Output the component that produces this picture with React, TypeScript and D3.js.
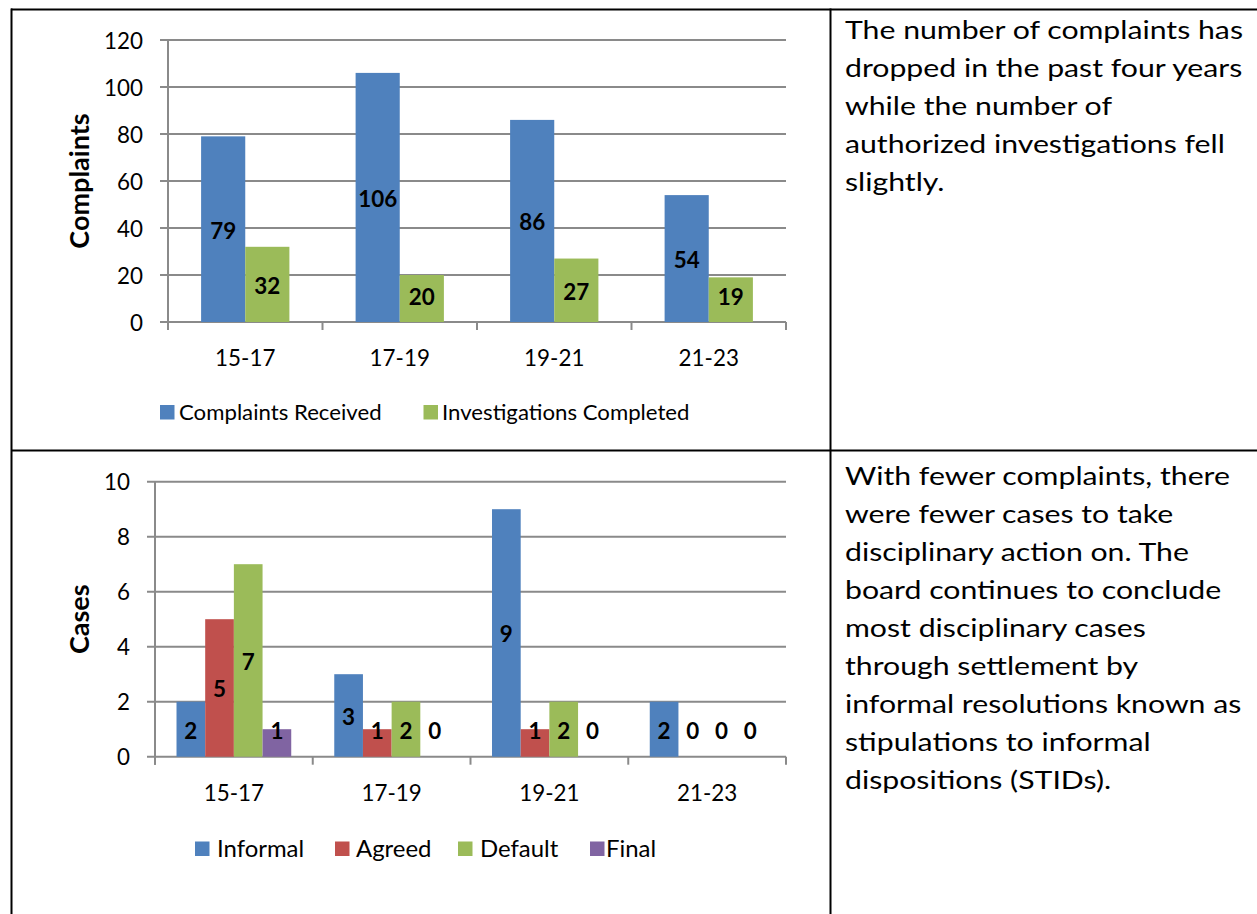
import React from 'react';
import * as d3 from 'd3';

// ---------- data ----------
const categories = ['15-17', '17-19', '19-21', '21-23'];

const complaintsReceived = [79, 106, 86, 54];
const investigationsCompleted = [32, 20, 27, 19];
const complaintTicks = [0, 20, 40, 60, 80, 100, 120];

const informalCases = [2, 3, 9, 2];
const agreedCases = [5, 1, 1, 0];
const defaultCases = [7, 2, 2, 0];
const finalCases = [1, 0, 0, 0];
const caseTicks = [0, 2, 4, 6, 8, 10];

const topSeriesNames = ['Complaints Received', 'Investigations Completed'];
const bottomSeriesNames = ['Informal', 'Agreed', 'Default', 'Final'];

const topText = [
  'The number of complaints has',
  'dropped in the past four years',
  'while the number of',
  'authorized investigations fell',
  'slightly.',
];
const bottomText = [
  'With fewer complaints, there',
  'were fewer cases to take',
  'disciplinary action on. The',
  'board continues to conclude',
  'most disciplinary cases',
  'through settlement by',
  'informal resolutions known as',
  'stipulations to informal',
  'dispositions (STIDs).',
];

// ---------- styles ----------
const FONT = "Lato, Carlito, Calibri, 'Open Sans', sans-serif";
const BLUE = '#4F81BD';
const RED = '#C0504D';
const GREEN = '#9BBB59';
const PURPLE = '#8064A2';
const GRID = '#8a8a8a';

type Series = { name: string; values: number[]; color: string };

type ChartProps = {
  series: Series[];
  ticks: number[];
  maxY: number;
  x0: number;
  x1: number;
  yTop: number;
  yBottom: number;
  tickLabelRight: number;
  title: string;
  titleX: number;
  xLabelY: number;
  legendY: number;
  legendSquareX: number[];
  legendTextX: number[];
  legendFont: number;
  legendStretch: number;
};

function BarChart(p: ChartProps) {
  const x = d3.scaleBand<string>().domain(categories).range([p.x0, p.x1]).paddingInner(0).paddingOuter(0);
  const inner = d3
    .scaleBand<string>()
    .domain(p.series.map((s) => s.name))
    .range([0, x.bandwidth()])
    .paddingInner(0)
    .paddingOuter(0.75);
  const y = d3.scaleLinear().domain([0, p.maxY]).range([p.yBottom, p.yTop]);
  const boundaries = categories.map((c) => x(c) as number).concat([p.x1]);
  const axisY = y(0);
  const labelFloor = axisY - 27;

  return (
    <g>
      {p.ticks.map((t) => (
        <line key={'g' + t} x1={p.x0 - 8} x2={p.x1} y1={y(t)} y2={y(t)} stroke={GRID} strokeWidth={2} />
      ))}
      <line x1={p.x0} x2={p.x0} y1={p.yTop} y2={axisY + 8} stroke={GRID} strokeWidth={2} />
      {boundaries.map((b, i) => (
        <line key={'c' + i} x1={b} x2={b} y1={axisY} y2={axisY + 8} stroke={GRID} strokeWidth={2} />
      ))}
      {p.ticks.map((t) => (
        <text
          key={'l' + t}
          x={p.tickLabelRight}
          y={y(t)}
          textAnchor="end"
          dominantBaseline="central"
          fontSize={22.4}
          fontFamily={FONT}
          fill="#000"
        >
          {t}
        </text>
      ))}
      <text
        transform={`translate(${p.titleX},${(p.yTop + p.yBottom) / 2}) rotate(-90)`}
        textAnchor="middle"
        dominantBaseline="central"
        fontSize={27}
        fontWeight="bold"
        fontFamily={FONT}
        fill="#000"
      >
        {p.title}
      </text>
      {p.series.map((s) => (
        <g key={s.name}>
          {s.values.map((v, i) => {
            const bx = (x(categories[i]) as number) + (inner(s.name) as number);
            return (
              <rect key={i} x={bx} y={y(v)} width={inner.bandwidth()} height={axisY - y(v)} fill={s.color} />
            );
          })}
        </g>
      ))}
      {p.series.map((s) => (
        <g key={'dl' + s.name}>
          {s.values.map((v, i) => {
            const cx = (x(categories[i]) as number) + (inner(s.name) as number) + inner.bandwidth() / 2;
            const mid = (y(v) + axisY) / 2;
            return (
              <text
                key={i}
                x={cx}
                y={Math.min(mid, labelFloor) + 1}
                textAnchor="middle"
                dominantBaseline="central"
                fontSize={22.4}
                fontWeight="bold"
                fontFamily={FONT}
                fill="#000"
              >
                {v}
              </text>
            );
          })}
        </g>
      ))}
      {categories.map((c) => (
        <text
          key={'x' + c}
          x={(x(c) as number) + x.bandwidth() / 2}
          y={p.xLabelY}
          textAnchor="middle"
          dominantBaseline="central"
          fontSize={22.4}
          fontFamily={FONT}
          fill="#000"
          style={{ fontVariantNumeric: 'tabular-nums', fontFeatureSettings: '"tnum"' }}
        >
          {c}
        </text>
      ))}
      {p.series.map((s, i) => (
        <g key={'lg' + s.name}>
          <rect x={p.legendSquareX[i]} y={p.legendY - 7} width={14.5} height={14.5} fill={s.color} />
          <text
            transform={`translate(${p.legendTextX[i]},${p.legendY}) scale(${p.legendStretch},1)`}
            dominantBaseline="central"
            fontSize={p.legendFont}
            fontFamily={FONT}
            fill="#000"
          >
            {s.name}
          </text>
        </g>
      ))}
    </g>
  );
}

function Paragraph({ lines, x, y0, lh }: { lines: string[]; x: number; y0: number; lh: number }) {
  return (
    <g>
      {lines.map((l, i) => (
        <text
          key={i}
          transform={`translate(${x},${y0 + i * lh}) scale(1.234,1)`}
          fontSize={24.5}
          fontFamily={FONT}
          fill="#000"
        >
          {l}
        </text>
      ))}
    </g>
  );
}

export default function App() {
  const topSeries: Series[] = [
    { name: topSeriesNames[0], values: complaintsReceived, color: BLUE },
    { name: topSeriesNames[1], values: investigationsCompleted, color: GREEN },
  ];
  const bottomSeries: Series[] = [
    { name: bottomSeriesNames[0], values: informalCases, color: BLUE },
    { name: bottomSeriesNames[1], values: agreedCases, color: RED },
    { name: bottomSeriesNames[2], values: defaultCases, color: GREEN },
    { name: bottomSeriesNames[3], values: finalCases, color: PURPLE },
  ];
  return (
    <svg
      width={1257}
      height={914}
      viewBox="0 0 1257 914"
      style={{ position: 'absolute', left: 0, top: 0, background: '#fff' }}
    >
      <rect x={0} y={0} width={1257} height={914} fill="#fff" />
      <line x1={11} x2={1257} y1={9.5} y2={9.5} stroke="#000" strokeWidth={2} />
      <line x1={11} x2={1257} y1={450.5} y2={450.5} stroke="#000" strokeWidth={2} />
      <line x1={11.5} x2={11.5} y1={8.5} y2={914} stroke="#000" strokeWidth={2} />
      <line x1={830.5} x2={830.5} y1={8.5} y2={914} stroke="#000" strokeWidth={2} />

      <BarChart
        series={topSeries}
        ticks={complaintTicks}
        maxY={120}
        x0={168}
        x1={786}
        yTop={40}
        yBottom={322}
        tickLabelRight={143}
        title="Complaints"
        titleX={78}
        xLabelY={357}
        legendY={412}
        legendSquareX={[160, 423.5]}
        legendTextX={[179, 442]}
        legendFont={20.5}
        legendStretch={1.083}
      />
      <BarChart
        series={bottomSeries}
        ticks={caseTicks}
        maxY={10}
        x0={155}
        x1={786}
        yTop={481.7}
        yBottom={756.7}
        tickLabelRight={130}
        title="Cases"
        titleX={78}
        xLabelY={792}
        legendY={848.5}
        legendSquareX={[195, 335, 458, 590]}
        legendTextX={[217, 356, 480, 606]}
        legendFont={23}
        legendStretch={1.04}
      />

      <Paragraph lines={topText} x={845} y0={39} lh={38} />
      <Paragraph lines={bottomText} x={845} y0={485} lh={38} />
    </svg>
  );
}
